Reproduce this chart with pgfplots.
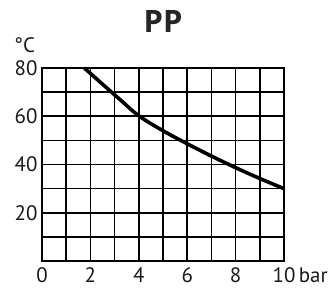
\documentclass[border=0pt]{standalone}
\usepackage{fontspec}
\setmainfont{PT Sans}
\newfontfamily\titlefont{Open Sans}
\usepackage{pgfplots}
\pgfplotsset{compat=1.18}
\begin{document}
\begin{tikzpicture}
\path[use as bounding box] (-42bp,-28bp) rectangle (289bp,261bp);
\begin{axis}[
  scale only axis,
  width=242bp, height=193bp,
  xmin=0, xmax=10, ymin=0, ymax=80,
  xtick={0,2,4,6,8,10},
  xticklabels={0,2,4,6,8,{10\rlap{\,bar}}},
  ytick={20,40,60,80},
  minor xtick={1,3,5,7,9},
  minor ytick={10,30,50,70},
  grid=both,
  major grid style={black, line width=1.6bp},
  minor grid style={black, line width=1.6bp},
  axis line style={black, line width=1.8bp},
  major tick length=0pt, minor tick length=0pt,
  /pgf/number format/assume math mode=true,
  tick label style={font=\fontsize{21}{21}\selectfont, text=black!90},
  xticklabel style={yshift=-3bp},
  x tick label style={anchor=north},
  yticklabel style={xshift=-1bp},
  clip=false,
]
\addplot[black, line width=3.6bp, smooth, tension=0.6] coordinates {
  (1.75,80) (2.5,73.3) (3.25,66.7) (4,60.2) (5,54) (6,48.6) (7,43.5) (8,38.7) (9,34.2) (10,30)
};
\node[anchor=south west, font=\fontsize{21}{21}\selectfont, text=black!90, inner sep=0pt] at (rel axis cs:0,1) [xshift=-28bp, yshift=15bp] {°C};
\node[font=\titlefont\bfseries\fontsize{31}{31}\selectfont, text=black!85] at (rel axis cs:0.5,1) [yshift=47bp] {PP};
\end{axis}
\end{tikzpicture}
\end{document}
